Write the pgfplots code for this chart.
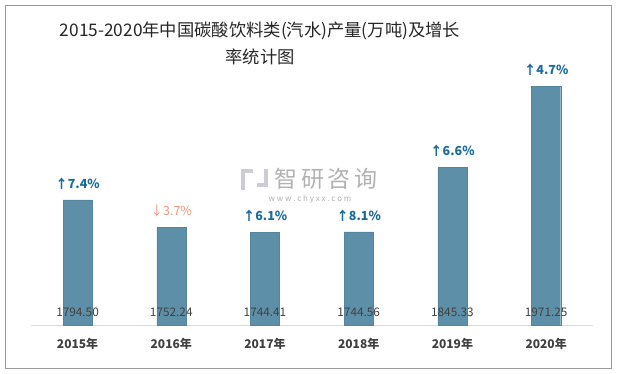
\documentclass[border=0pt]{standalone}
\usepackage{pgfplots}
\pgfplotsset{compat=1.18}
\usepackage{fontspec}
\setmainfont{Noto Sans CJK SC}
\definecolor{barc}{HTML}{5D90A8}
\definecolor{upc}{HTML}{1A6B9A}
\definecolor{dnc}{HTML}{F0937A}
\definecolor{txt}{HTML}{404040}
\begin{document}
\begin{tikzpicture}[x=1pt,y=1pt]
\useasboundingbox (0,0) rectangle (620,373);
\draw[color=black!40, line width=0.9pt] (5,5) rectangle (611,368);
\node[font=\fontsize{17.3}{27}\selectfont, align=center, text=black!85] at (260,329.5) {2015-2020年中国碳酸饮料类(汽水)产量(万吨)及增长\\率统计图};
% watermark
\node[text=black!30, font=\fontsize{23}{23}\selectfont] at (326,194) {智\,研\,咨\,询};
\node[text=black!30, font=\fontsize{8}{8}\selectfont] at (310,174) {w\ w\ w\ .\ c\ h\ y\ x\ x\ .\ c\ o\ m};
\fill[blue!25!black!20] (241,200) rectangle (253,204);
\fill[blue!25!black!20] (241,183) rectangle (245,200);
\fill[blue!25!black!20] (257,186) rectangle (268,190);
\fill[blue!25!black!20] (264,190) rectangle (268,204);
\begin{axis}[at={(30.7pt,48pt)}, anchor=south west, scale only axis,
  width=562.3pt, height=257.4pt,
  xmin=-0.5, xmax=5.5, ymin=1600, ymax=2000,
  axis x line=bottom, axis y line=none,
  x axis line style={draw=black!15, line width=0.9pt, -},
  xtick={0,...,5},
  xticklabels={2015年,2016年,2017年,2018年,2019年,2020年},
  xtick style={draw=none},
  xticklabel style={font=\bfseries\fontsize{12}{12}\selectfont, text=txt, yshift=-8pt},
  ytick=\empty,
]
\addplot[ybar, bar width=29pt, fill=barc, draw=barc!92!black, line width=0.3pt,
  nodes near coords, point meta=explicit symbolic,
  nodes near coords style={anchor=south, inner sep=0pt, yshift=10pt, font=\fontsize{12.5}{12.5}\selectfont}]
coordinates {
(0,1794.50) [\textcolor{upc}{\textbf{↑7.4\%}}]
(1,1752.24) [\textcolor{dnc}{↓3.7\%}]
(2,1744.41) [\textcolor{upc}{\textbf{↑6.1\%}}]
(3,1744.56) [\textcolor{upc}{\textbf{↑8.1\%}}]
(4,1845.33) [\textcolor{upc}{\textbf{↑6.6\%}}]
(5,1971.25) [\textcolor{upc}{\textbf{↑4.7\%}}]
};
\addplot[draw=none, mark=none, nodes near coords, point meta=explicit symbolic,
  nodes near coords style={anchor=center, inner sep=0pt, text=txt, font=\fontsize{11.8}{11.8}\selectfont}]
coordinates {
(0,1620) [1794.50]
(1,1620) [1752.24]
(2,1620) [1744.41]
(3,1620) [1744.56]
(4,1620) [1845.33]
(5,1620) [1971.25]
};
\end{axis}
\end{tikzpicture}
\end{document}
